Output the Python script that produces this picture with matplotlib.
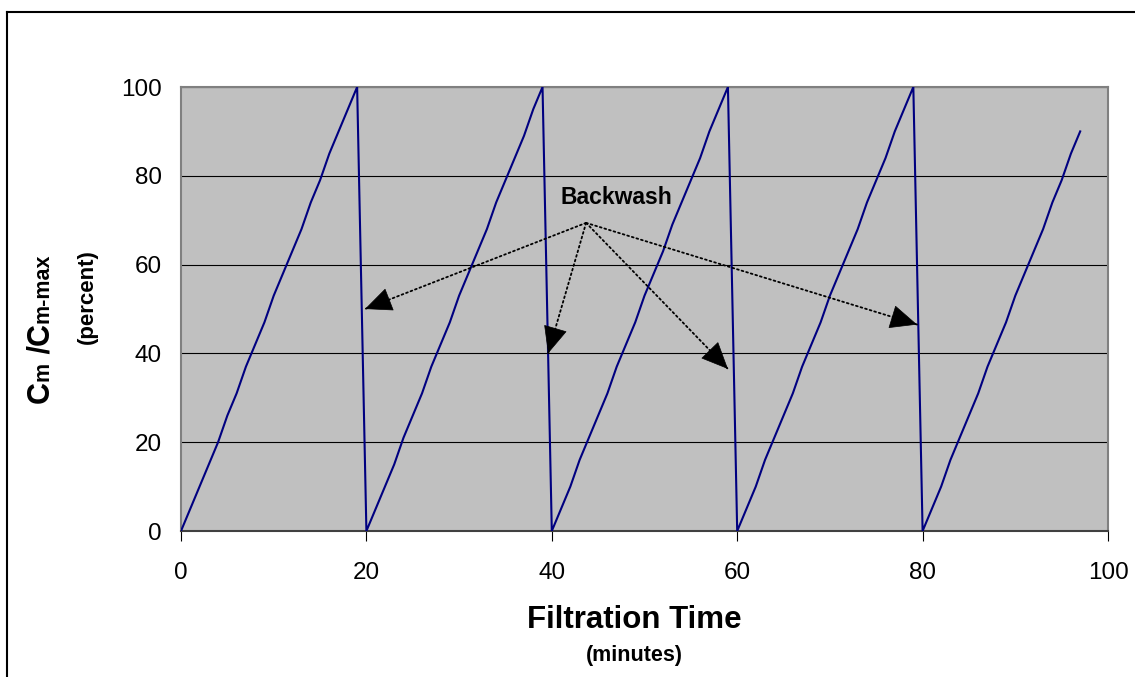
import matplotlib
matplotlib.use('Agg')
import matplotlib.pyplot as plt
from matplotlib.lines import Line2D

plt.rcParams['font.family'] = ['Liberation Sans', 'DejaVu Sans']

# filtration time (minutes) and Cm/Cm-max (percent), one run of the sawtooth
time = [0, 1, 2, 3, 4, 5, 6, 7, 8, 9, 10, 11, 12, 13, 14, 15, 16, 17, 18, 19,
        20, 21, 22, 23, 24, 25, 26, 27, 28, 29, 30, 31, 32, 33, 34, 35, 36, 37, 38, 39,
        40, 41, 42, 43, 44, 45, 46, 47, 48, 49, 50, 51, 52, 53, 54, 55, 56, 57, 58, 59,
        60, 61, 62, 63, 64, 65, 66, 67, 68, 69, 70, 71, 72, 73, 74, 75, 76, 77, 78, 79,
        80, 81, 82, 83, 84, 85, 86, 87, 88, 89, 90, 91, 92, 93, 94, 95, 96, 97]
conc = [0, 5, 10, 15, 20, 26, 31, 37, 42, 47, 53, 58, 63, 68, 74, 79, 85, 90, 95, 100,
        0, 5, 10, 15, 21, 26, 31, 37, 42, 47, 53, 58, 63, 68, 74, 79, 84, 89, 95, 100,
        0, 5, 10, 16, 21, 26, 31, 37, 42, 47, 53, 58, 63, 69, 74, 79, 84, 90, 95, 100,
        0, 5, 10, 16, 21, 26, 31, 37, 42, 47, 53, 58, 63, 68, 74, 79, 84, 90, 95, 100,
        0, 5, 10, 16, 21, 26, 31, 37, 42, 47, 53, 58, 63, 68, 74, 79, 85, 90]

xticks = [0, 20, 40, 60, 80, 100]
yticks = [0, 20, 40, 60, 80, 100]

# backwash annotation: label, arrow origin and arrow tips
backwash_label = (47.0, 75.0)
backwash_from = (43.7, 69.4)
backwash_tips = [(19.85, 50.0), (39.6, 40.0), (59.0, 36.5), (79.4, 46.5)]

W, H = 1135, 677
fig = plt.figure(figsize=(W / 100, H / 100), dpi=100)
ax = fig.add_axes([181 / W, 1 - 531 / H, (1108 - 181) / W, (531 - 87) / H])
ax.set_facecolor('#c0c0c0')

ax.plot(time, conc, color='#000080', lw=1.5, zorder=3)

ax.set_xlim(0, 100)
ax.set_ylim(0, 100)
ax.set_xticks(xticks)
ax.set_yticks(yticks)
ax.tick_params(axis='x', direction='out', length=7, width=0.8, pad=15, labelsize=17.5)
ax.tick_params(axis='y', length=0, pad=14, labelsize=17.5)
ax.yaxis.grid(True, color='black', lw=0.8)
ax.set_axisbelow(True)
for side in ['left', 'top', 'right']:
    ax.spines[side].set_color('#808080')
    ax.spines[side].set_linewidth(1.5)
ax.spines['bottom'].set_color('#404040')
ax.spines['bottom'].set_linewidth(1.5)

ax.text(backwash_label[0], backwash_label[1], 'Backwash', fontsize=16.5, fontweight='bold',
        ha='center', va='center', zorder=5)

# dotted shafts, then solid heads at the tips
fig.canvas.draw()
x0, y0 = ax.transData.transform(backwash_from)
for tip in backwash_tips:
    ax.annotate('', xy=tip, xytext=backwash_from,
                arrowprops=dict(arrowstyle='-', linestyle=':', color='black', lw=1.3,
                                shrinkA=0, shrinkB=0), zorder=4)
    x1, y1 = ax.transData.transform(tip)
    d = ((x1 - x0) ** 2 + (y1 - y0) ** 2) ** 0.5
    ax.annotate('', xy=tip, xytext=(-(x1 - x0) / d * 22, -(y1 - y0) / d * 22),
                textcoords='offset pixels',
                arrowprops=dict(arrowstyle='-|>,head_length=0.9,head_width=0.4',
                                color='black', lw=0.5, mutation_scale=20,
                                shrinkA=0, shrinkB=0), zorder=4)

# axis titles
fig.text(634 / W, 1 - 620 / H, 'Filtration Time', fontsize=22.5, fontweight='bold',
         ha='center', va='center')
fig.text(634 / W, 1 - 656 / H, '(minutes)', fontsize=15.5, fontweight='bold',
         ha='center', va='center')

# y title built from pieces of different sizes on one rotated baseline
renderer = fig.canvas.get_renderer()
pieces = [('C', 22), ('m', 15.5), (' /', 22), ('C', 22), ('m-max', 15.5)]
y_px = 403
for txt, size in pieces:
    t = fig.text(49 / W, 1 - y_px / H, txt, fontsize=size, fontweight='bold',
                 rotation=90, rotation_mode='anchor', ha='left', va='baseline')
    bb = t.get_window_extent(renderer)
    y_px -= bb.height
fig.text(93 / W, 1 - 297 / H, '(percent)', fontsize=16, fontweight='bold',
         rotation=90, rotation_mode='anchor', ha='center', va='baseline')

# outer chart border
fig.add_artist(Line2D([7 / W, 7 / W], [0, 1 - 12 / H], color='black', lw=1.5))
fig.add_artist(Line2D([7 / W, 1], [1 - 12 / H, 1 - 12 / H], color='black', lw=1.5))

fig.savefig('out.png', dpi=100)
